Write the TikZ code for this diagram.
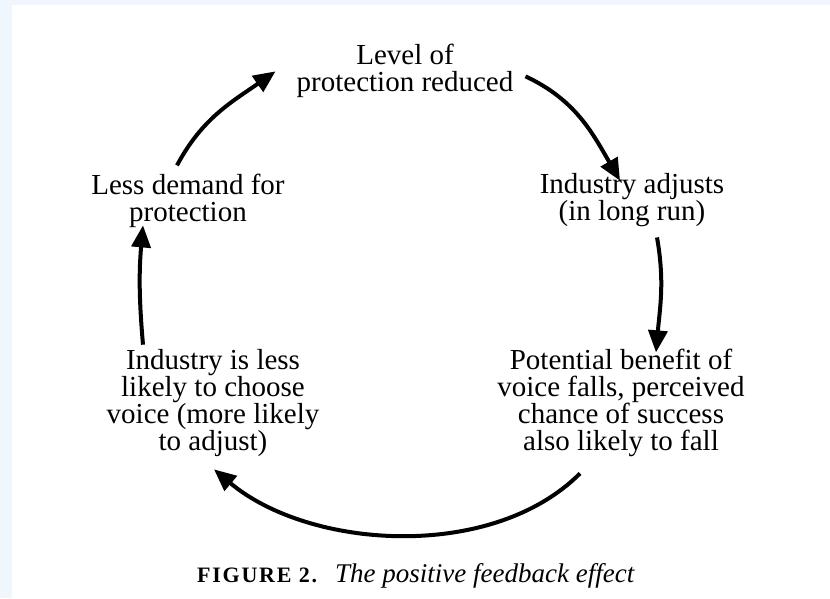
\documentclass[tikz,border=0pt]{standalone}
\usepackage{fontspec}
\setmainfont{Liberation Serif}
\usetikzlibrary{arrows.meta}
\definecolor{pageblue}{RGB}{240,246,254}
\begin{document}
\begin{tikzpicture}[x=1pt,y=1pt,
  label/.style={align=center, inner sep=0pt, anchor=base,
    font=\fontsize{29}{27}\selectfont},
  arr/.style={line width=4pt, -{Triangle[length=22pt,width=19pt]}}]
% page and margin band
\fill[pageblue] (0,0) rectangle (830,598);
\fill[white] (12,0) rectangle (830,593);
\useasboundingbox (0,0) rectangle (830,598);

% the five stages of the loop (placed by the baseline of their last line)
\node[label] (top) at (405,506) {Level of\\protection reduced};
\node[label] (adj) at (632,377) {Industry adjusts\\(in long run)};
\node[label] (pot) at (621,148) {Potential benefit of\\voice falls, perceived\\chance of success\\also likely to fall};
\node[label] (ind) at (213,148) {Industry is less\\likely to choose\\voice (more likely\\to adjust)};
\node[label] (less) at (188,376) {Less demand for\\protection};

% feedback arrows
\draw[arr] ([shift={(-11,9)}]less.north) to[out=62,in=215] ([xshift=-21pt]top.west);
\draw[arr] ([shift={(12,-5)}]top.east) to[out=-25,in=120] ([shift={(-12,-7)}]adj.north);
\draw[arr] ([shift={(25,-10)}]adj.south) to[out=-80,in=85] ([shift={(35,-4)}]pot.north);
\draw[arr] ([shift={(-41,-17)}]pot.south) to[out=225,in=-40,looseness=0.87] ([shift={(1,-13)}]ind.south);
\draw[arr] ([shift={(-70,4)}]ind.north) to[out=95,in=265] ([shift={(-45,3)}]less.south);

% caption
\node[anchor=base west, inner sep=0pt, font=\fontsize{22}{26}\selectfont\bfseries\addfontfeature{LetterSpace=8}] (fig) at (197,16) {FIGURE 2.};
\node[anchor=base west, inner sep=0pt, font=\fontsize{27}{30}\selectfont\itshape] (cap) at (335,16) {The positive feedback effect};
\end{tikzpicture}
\end{document}
